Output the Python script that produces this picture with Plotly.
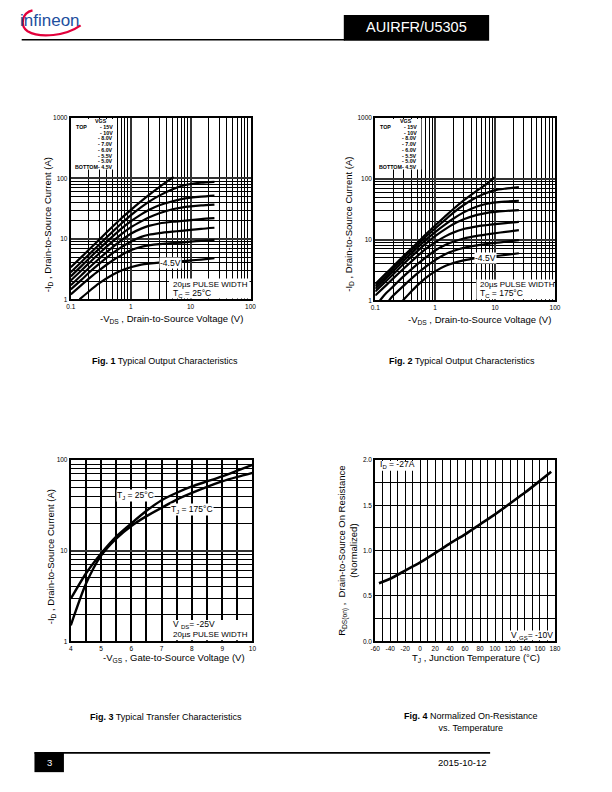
import plotly.graph_objects as go

W, H = 612, 792
FONT = "Arial, Liberation Sans, sans-serif"

def X(p):
    return p / W

def Y(p):
    return 1 - p / H

# ---------------- data ----------------
vgs_names = ["- 15V", "- 10V", "- 8.0V", "- 7.0V", "- 6.0V", "- 5.5V", "- 5.0V", "- 4.5V"]

# Fig 1 : Tc = 25 C  (-VDS [V], -ID [A])
f1_vds = [0.1, 0.15, 0.2, 0.3, 0.5, 0.7, 1, 1.5, 2, 3, 5, 7, 10, 15, 25]
f1_vds_15v = [0.1, 0.15, 0.2, 0.3, 0.5, 0.7, 1, 1.5, 2, 3, 5.2]
f1_id_15v = [3.4, 5.0, 6.6, 9.8, 16, 22, 30, 42, 53, 72, 106]
f1_id_10v = [2.8, 4.15, 5.5, 8.1, 13.2, 18, 24.5, 33.5, 41, 52, 66, 75, 81, 85, 88]
f1_id_8v = [2.4, 3.55, 4.7, 6.9, 11, 14.8, 19.5, 25.5, 30, 36, 42, 45.5, 48, 50, 52]
f1_id_7v = [2.05, 3.0, 3.95, 5.8, 9.1, 12, 15.5, 19.5, 22.5, 26.5, 31, 33, 34.5, 35.8, 37]
f1_id_6v = [1.71, 2.5, 3.3, 4.75, 7.3, 9.5, 12.2, 14.8, 16.4, 18, 19.2, 19.8, 20.4, 21.2, 22]
f1_id_55v = [1.46, 2.1, 2.75, 3.9, 5.8, 7.3, 9.0, 10.8, 11.7, 12.5, 13.2, 13.6, 14.1, 14.7, 15.3]
f1_id_5v = [1.21, 1.72, 2.2, 3.05, 4.4, 5.4, 6.5, 7.4, 7.8, 8.2, 8.5, 8.7, 9.0, 9.3, 9.6]
f1_vds_45v = [0.14, 0.2, 0.3, 0.5, 0.7, 1, 1.5, 2, 3, 5, 7, 10, 15, 25]
f1_id_45v = [1.0, 1.35, 1.85, 2.55, 3.0, 3.4, 3.75, 3.9, 4.05, 4.15, 4.25, 4.4, 4.55, 4.8]

# Fig 2 : Tc = 175 C
f2_vds = [0.1, 0.15, 0.2, 0.3, 0.5, 0.7, 1, 1.5, 2, 3, 5, 7, 10, 15, 25]
f2_vds_15v = [0.1, 0.15, 0.2, 0.3, 0.5, 0.7, 1, 1.5, 2, 3, 5, 7, 9.8]
f2_id_15v = [1.85, 2.75, 3.65, 5.4, 8.8, 12.2, 17, 24.5, 31.5, 44, 64, 80, 106]
f2_id_10v = [1.7, 2.5, 3.35, 5.0, 8.1, 11.1, 15.2, 21.5, 27.5, 37, 50, 58, 65, 69, 73]
f2_id_8v = [1.55, 2.3, 3.05, 4.5, 7.3, 9.9, 13.3, 18, 22, 28, 35, 38.5, 41, 42.3, 43.5]
f2_id_7v = [1.4, 2.05, 2.7, 4.0, 6.4, 8.6, 11.4, 15, 17.8, 21.5, 25.5, 27.3, 28.5, 29.5, 30.5]
f2_id_6v = [1.2, 1.75, 2.3, 3.35, 5.3, 7.0, 9.0, 11.4, 13, 14.9, 16.5, 17.2, 17.9, 18.7, 19.6]
f2_vds_55v = [0.12, 0.15, 0.2, 0.3, 0.5, 0.7, 1, 1.5, 2, 3, 5, 7, 10, 15, 25]
f2_id_55v = [1.0, 1.3, 1.7, 2.5, 3.9, 5.1, 6.6, 8.2, 9.2, 10.4, 11.5, 12.1, 12.7, 13.4, 14.3]
f2_vds_5v = [0.17, 0.2, 0.3, 0.5, 0.7, 1, 1.5, 2, 3, 5, 7, 10, 15, 25]
f2_id_5v = [1.0, 1.2, 1.75, 2.75, 3.6, 4.6, 5.8, 6.5, 7.3, 8.0, 8.4, 8.8, 9.2, 9.8]
f2_vds_45v = [0.29, 0.4, 0.5, 0.7, 1, 1.5, 2, 3, 5, 7, 10, 15, 25]
f2_id_45v = [1.0, 1.4, 1.75, 2.35, 3.0, 3.7, 4.1, 4.55, 4.95, 5.15, 5.35, 5.6, 5.95]

# Fig 3 : transfer characteristics (-VGS [V], -ID [A])
f3_vgs = [4, 4.5, 5, 5.5, 6, 6.5, 7, 7.5, 8, 8.5, 9, 9.5, 10]
f3_id_25c = [2.95, 5.6, 9.3, 14.3, 20, 27.5, 36, 43.5, 51, 58, 66, 76, 88]
f3_id_175c = [1.5, 4.3, 8.8, 13.6, 18.7, 24, 29.7, 36.5, 43.3, 50.5, 58, 65, 72]

# Fig 4 : normalized RDS(on) vs TJ
f4_tj = [-55, -40, -20, 0, 25, 40, 60, 80, 100, 120, 140, 160, 175]
f4_rds = [0.64, 0.69, 0.78, 0.87, 1.0, 1.08, 1.18, 1.29, 1.40, 1.52, 1.64, 1.77, 1.87]

# ---------------- figure ----------------
fig = go.Figure()

def add_curve(xs, ys, xa, ya, width=2.2):
    fig.add_trace(go.Scatter(x=xs, y=ys, mode="lines", xaxis=xa, yaxis=ya,
                             line=dict(color="black", width=width, shape="spline", smoothing=0.7),
                             showlegend=False, hoverinfo="skip"))

fig1_curves = [(f1_vds_15v, f1_id_15v), (f1_vds, f1_id_10v), (f1_vds, f1_id_8v), (f1_vds, f1_id_7v),
               (f1_vds, f1_id_6v), (f1_vds, f1_id_55v), (f1_vds, f1_id_5v), (f1_vds_45v, f1_id_45v)]
for xs, ys in fig1_curves:
    add_curve(xs, ys, "x", "y")

fig2_curves = [(f2_vds_15v, f2_id_15v), (f2_vds, f2_id_10v), (f2_vds, f2_id_8v), (f2_vds, f2_id_7v),
               (f2_vds, f2_id_6v), (f2_vds_55v, f2_id_55v), (f2_vds_5v, f2_id_5v), (f2_vds_45v, f2_id_45v)]
for xs, ys in fig2_curves:
    add_curve(xs, ys, "x2", "y2")

add_curve(f3_vgs, f3_id_25c, "x3", "y3", 2.4)
add_curve(f3_vgs, f3_id_175c, "x3", "y3", 2.4)
add_curve(f4_tj, f4_rds, "x4", "y4", 2.6)

# ---------------- axes ----------------
tickfont = dict(family=FONT, size=6.5, color="black")
log_minor_x = [k * 10.0 ** d for d in (-1, 0, 1) for k in range(2, 10)]
log_minor_y = [k * 10.0 ** d for d in (0, 1) for k in range(2, 10)]

def base_axis(domain, anchor):
    return dict(domain=domain, anchor=anchor, showline=True, mirror=True, linecolor="black",
                linewidth=2, ticks="", zeroline=False, showgrid=True, tickfont=tickfont,
                fixedrange=True)

def log_axis(domain, anchor, rng, vals, texts, minor_vals):
    d = base_axis(domain, anchor)
    d.update(type="log", range=rng, tickmode="array", tickvals=vals, ticktext=texts,
             gridcolor="#333333", gridwidth=2.2,
             minor=dict(tickmode="array", tickvals=minor_vals, showgrid=True,
                        gridcolor="black", gridwidth=1, ticks=""))
    return d

def lin_axis(domain, anchor, rng, vals, texts, minor_vals, gw=1.3):
    d = base_axis(domain, anchor)
    d.update(type="linear", range=rng, tickmode="array", tickvals=vals, ticktext=texts,
             gridcolor="black", gridwidth=gw,
             minor=dict(tickmode="array", tickvals=minor_vals, showgrid=True,
                        gridcolor="black", gridwidth=gw, ticks=""))
    return d

fx = [0.1, 1, 10, 100]
fx_t = ["0.1", "1", "10", "100"]
fy = [1, 10, 100, 1000]
fy_t = ["1", "10", "100", "1000"]

fig.update_layout(
    xaxis=log_axis([X(67), X(250)], "y", [-1, 2], fx, fx_t, log_minor_x),
    yaxis=log_axis([Y(298), Y(115)], "x", [0, 3], fy, fy_t, log_minor_y),
    xaxis2=log_axis([X(377), X(560)], "y2", [-1, 2], fx, fx_t, log_minor_x),
    yaxis2=log_axis([Y(299), Y(115)], "x2", [0, 3], fy, fy_t, log_minor_y),
    xaxis3=lin_axis([X(67), X(252)], "y3", [4, 10], [4, 5, 6, 7, 8, 9, 10],
                    ["4", "5", "6", "7", "8", "9", "10"], [4.5, 5.5, 6.5, 7.5, 8.5, 9.5], 1.5),
    yaxis3=log_axis([Y(643), Y(460)], "x3", [0, 2], [1, 10, 100], ["1", "10", "100"], log_minor_y),
    xaxis4=lin_axis([X(377), X(560)], "y4", [-60, 180], list(range(-60, 181, 20)),
                    [str(v) for v in range(-60, 181, 20)], list(range(-50, 180, 20)), 1.4),
    yaxis4=lin_axis([Y(643), Y(460)], "x4", [0, 2], [0, 0.5, 1.0, 1.5, 2.0],
                    ["0.0", "0.5", "1.0", "1.5", "2.0"], [0.25, 0.75, 1.25, 1.75], 1.4),
)

# ---------------- shapes ----------------
shapes = []

def prect(x0, x1, y0, y1, color="black"):
    shapes.append(dict(type="rect", xref="paper", yref="paper", x0=X(x0), x1=X(x1),
                       y0=Y(y1), y1=Y(y0), fillcolor=color, line=dict(width=0), layer="above"))

def pline(x0, x1, y, w=1.6):
    shapes.append(dict(type="line", xref="paper", yref="paper", x0=X(x0), x1=X(x1),
                       y0=Y(y), y1=Y(y), line=dict(color="black", width=w)))

# white label boxes inside the plots (pixel positions on the page)
prect(68, 114, 116, 167, "white")
prect(167, 249, 277, 297, "white")
prect(378, 424, 116, 167, "white")
prect(480, 559, 278, 298, "white")
prect(166.5, 251, 621.5, 642, "white")
prect(378, 417.5, 461, 471, "white")
prect(511, 559, 632, 642, "white")

# header
pline(17, 346, 36, 1.6)
prect(345, 493, 11, 37)
# footer
pline(30, 494, 755.5, 1.8)
prect(30, 60, 755, 775)

# infineon swoosh
pts = [(28, 6.5), (17, 9), (15, 22), (23, 27.5), (36, 35), (62, 32), (77, 21.5)]
path = "M {:.5f},{:.5f} C {:.5f},{:.5f} {:.5f},{:.5f} {:.5f},{:.5f} C {:.5f},{:.5f} {:.5f},{:.5f} {:.5f},{:.5f}".format(
    *[v for p in pts for v in (X(p[0]), Y(p[1]))])
shapes.append(dict(type="path", xref="paper", yref="paper", path=path,
                   line=dict(color="#E2003B", width=2.2)))

fig.update_layout(shapes=shapes)

# ---------------- annotations ----------------
ann = []

def txt(x, y, text, size=9, anchor="center", angle=0, color="black", bg=None, family=FONT, yanchor="middle"):
    d = dict(x=X(x), y=Y(y), xref="paper", yref="paper", text=text, showarrow=False,
             xanchor=anchor, yanchor=yanchor, textangle=angle,
             font=dict(family=family, size=size, color=color))
    if bg:
        d.update(bgcolor=bg, borderpad=0)
    ann.append(d)

# header / footer
txt(46, 17, "infineon", 17, color="#1D4F9E",
    family="Liberation Sans Narrow, Arial Narrow, Liberation Sans, sans-serif")
txt(419, 23.5, "AUIRFR/U5305", 14.5, color="white")
txt(45, 765.5, "3", 9.5, color="white")
txt(493, 765, "2015-10-12", 9.5, anchor="right")

# axis titles
txt(44, 223, "-I<sub>D</sub> , Drain-to-Source Current (A)", 9.5, angle=-90)
txt(170, 318, "-V<sub>DS</sub> , Drain-to-Source Voltage (V)", 9.5)
txt(350, 222, "-I<sub>D</sub> , Drain-to-Source Current (A)", 9.5, angle=-90)
txt(483, 319, "-V<sub>DS</sub> , Drain-to-Source Voltage (V)", 9.5)
txt(47, 558, "-I<sub>D</sub> , Drain-to-Source Current (A)", 9.5, angle=-90)
txt(172, 660, "-V<sub>GS</sub> , Gate-to-Source Voltage (V)", 9.5)
txt(348, 552, "R<sub>DS(on)</sub> ,  Drain-to-Source On Resistance<br>(Normalized)", 9.5, angle=-90)
txt(480, 660, "T<sub>J</sub> , Junction Temperature (°C)", 9.5)

# captions
txt(162.5, 360, "<b>Fig. 1</b> Typical Output Characteristics", 9)
txt(465, 360, "<b>Fig. 2</b> Typical Output Characteristics", 9)
txt(164, 719.5, "<b>Fig. 3</b> Typical Transfer Characteristics", 9)
txt(475, 724, "<b>Fig. 4</b> Normalized On-Resistance<br>vs. Temperature", 9)

# legends inside fig 1 & 2
leg_y = [124, 130, 135.5, 141, 147, 153, 158.5, 164]
for dx in (0, 310):
    txt(106 + dx, 118, "<b>VGS</b>", 5.3, anchor="right")
    txt(70 + dx, 124, "<b>TOP</b>", 5.3, anchor="left")
    txt(69 + dx, 164, "<b>BOTTOM</b>", 5.3, anchor="left")
    for name, yy in zip(vgs_names, leg_y):
        txt(112 + dx, yy, "<b>" + name + "</b>", 5.3, anchor="right")

# in-plot labels
txt(169, 261.5, "-4.5V", 8.5, bg="white")
txt(489, 256, "-4.5V", 8.5, bg="white")
txt(169.5, 283, "20µs PULSE WIDTH", 8, anchor="left")
txt(169.5, 292, "T<sub>C</sub> = 25°C", 8.5, anchor="left")
txt(482, 283, "20µs PULSE WIDTH", 8, anchor="left")
txt(482, 292, "T<sub>C</sub> = 175°C", 8.5, anchor="left")
txt(113, 496, "T<sub>J</sub> = 25°C", 8.5, anchor="left", bg="white")
txt(168, 510, "T<sub>J</sub> = 175°C", 8.5, anchor="left", bg="white")
txt(169, 626.5, "V <sub>DS</sub>= -25V", 8.5, anchor="left")
txt(169, 636.5, "20µs PULSE WIDTH", 8, anchor="left")
txt(380, 465, "I<sub>D</sub> = -27A", 8.5, anchor="left")
txt(513, 637, "V <sub>GS</sub>= -10V", 8.5, anchor="left")

fig.update_layout(annotations=ann)

fig.update_layout(width=W, height=H, margin=dict(l=0, r=0, t=0, b=0), autosize=False,
                  paper_bgcolor="white", plot_bgcolor="white", showlegend=False,
                  font=dict(family=FONT, color="black"))

fig.write_html("out.html", config={"displayModeBar": False},
               post_script="document.body.style.margin='0';document.body.style.overflow='hidden';")
